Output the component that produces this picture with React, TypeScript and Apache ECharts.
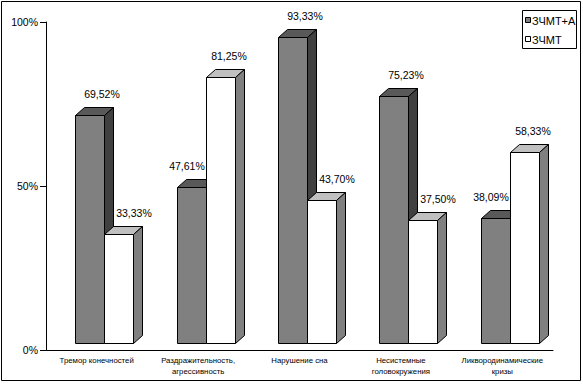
import React, { useEffect, useRef } from 'react';
import * as echarts from 'echarts';

const categories = [
  'Тремор конечностей',
  'Раздражительность,\nагрессивность',
  'Нарушение сна',
  'Несистемные\nголовокружения',
  'Ликвородинамические\nкризы',
];
const seriesNames = ['ЗЧМТ+А', 'ЗЧМТ'];
const tbiA = [69.52, 47.61, 93.33, 75.23, 38.09];
const tbi = [33.33, 81.25, 43.7, 37.5, 58.33];
const yTicks = ['0%', '50%', '100%'];

const FONT = '"Liberation Sans", Arial, sans-serif';
const palettes = [
  { front: '#808080', top: '#595959', side: '#404040' },
  { front: '#ffffff', top: '#c0c0c0', side: '#808080' },
];

const fmt = (v: number) => v.toFixed(2).replace('.', ',') + '%';

function makeRender(s: number) {
  return (params: any, api: any) => {
    const i = params.dataIndex;
    const cat = api.value(0);
    const v = api.value(1);
    const base = api.coord([cat, 0]);
    const top = api.coord([cat, v]);
    const band = api.size([1, 0])[0];
    const w = Math.round(band * 0.287);
    const cx = base[0] + 7.5;
    const x0 = Math.round(s === 0 ? cx - w : cx) + 0.5;
    const x1 = x0 + w;
    const yb = Math.round(base[1] - 7) + 0.5;
    const yt = Math.round(top[1] - 7) + 0.5;
    const dx = 9;
    const dy = 8;
    const p = palettes[s];
    const grayTaller = tbiA[i] > tbi[i];
    const off = s === 0 ? (grayTaller ? 12 : -5) : grayTaller ? 15 : 8;
    const lineStyle = { stroke: '#000', lineWidth: 1 };
    return {
      type: 'group',
      children: [
        {
          type: 'polygon',
          shape: { points: [[x0, yt], [x0 + dx, yt - dy], [x1 + dx, yt - dy], [x1, yt]] },
          style: { fill: p.top, ...lineStyle },
        },
        {
          type: 'polygon',
          shape: { points: [[x1, yt], [x1 + dx, yt - dy], [x1 + dx, yb - dy], [x1, yb]] },
          style: { fill: p.side, ...lineStyle },
        },
        {
          type: 'rect',
          shape: { x: x0, y: yt, width: w, height: yb - yt },
          style: { fill: p.front, ...lineStyle },
        },
        {
          type: 'text',
          style: {
            text: fmt(v),
            x: (x0 + x1) / 2 + off,
            y: yt - 22,
            fill: '#000',
            fontSize: 10.5,
            fontFamily: FONT,
            align: 'center',
            verticalAlign: 'middle',
          },
        },
      ],
    };
  };
}

export default function App() {
  const ref = useRef<HTMLDivElement>(null);
  useEffect(() => {
    if (!ref.current) return;
    const chart = echarts.init(ref.current, null, { renderer: 'svg' });
    chart.setOption({
      animation: false,
      backgroundColor: '#fff',
      textStyle: { fontFamily: FONT },
      grid: { left: 46, right: 30, top: 22, bottom: 34, containLabel: false },
      xAxis: {
        type: 'category',
        data: categories,
        boundaryGap: true,
        axisLine: { lineStyle: { color: '#000', width: 1 } },
        axisTick: { length: 3, lineStyle: { color: '#000' } },
        axisLabel: {
          color: '#000',
          fontSize: 7.8,
          lineHeight: 11,
          margin: 5,
          interval: 0,
          fontFamily: FONT,
        },
        splitLine: { show: false },
      },
      yAxis: {
        type: 'value',
        min: 0,
        max: 100,
        interval: 50,
        axisLine: { show: true, lineStyle: { color: '#000', width: 1 } },
        axisTick: { show: true, length: 6, lineStyle: { color: '#000' } },
        axisLabel: {
          color: '#000',
          fontSize: 10.5,
          margin: 8,
          fontFamily: FONT,
          formatter: (val: number) => yTicks[Math.round(val / 50)] ?? '',
        },
        splitLine: { show: false },
      },
      series: [
        {
          type: 'custom',
          name: seriesNames[0],
          renderItem: makeRender(0),
          encode: { x: 0, y: 1 },
          data: tbiA.map((v, i) => [i, v]),
          clip: false,
        },
        {
          type: 'custom',
          name: seriesNames[1],
          renderItem: makeRender(1),
          encode: { x: 0, y: 1 },
          data: tbi.map((v, i) => [i, v]),
          clip: false,
        },
      ],
      graphic: [
        {
          type: 'rect',
          shape: { x: 1.5, y: 1.5, width: 579, height: 379 },
          style: { fill: 'none', stroke: '#000', lineWidth: 1 },
          z: 100,
        },
        {
          type: 'rect',
          shape: { x: 522.5, y: 10.5, width: 54, height: 38 },
          style: { fill: '#fff', stroke: '#000', lineWidth: 1 },
          z: 100,
        },
        {
          type: 'rect',
          shape: { x: 525.5, y: 17.5, width: 5, height: 5 },
          style: { fill: palettes[0].front, stroke: '#000', lineWidth: 1 },
          z: 101,
        },
        {
          type: 'text',
          style: {
            text: seriesNames[0],
            x: 532,
            y: 20.5,
            fill: '#000',
            fontSize: 11,
            fontFamily: FONT,
            verticalAlign: 'middle',
          },
          z: 101,
        },
        {
          type: 'rect',
          shape: { x: 525.5, y: 36.5, width: 5, height: 5 },
          style: { fill: palettes[1].front, stroke: '#000', lineWidth: 1 },
          z: 101,
        },
        {
          type: 'text',
          style: {
            text: seriesNames[1],
            x: 532,
            y: 39.5,
            fill: '#000',
            fontSize: 11,
            fontFamily: FONT,
            verticalAlign: 'middle',
          },
          z: 101,
        },
      ],
    });
    return () => chart.dispose();
  }, []);
  return (
    <div
      ref={ref}
      style={{ position: 'fixed', left: 0, top: 0, width: 583, height: 384 }}
    />
  );
}
